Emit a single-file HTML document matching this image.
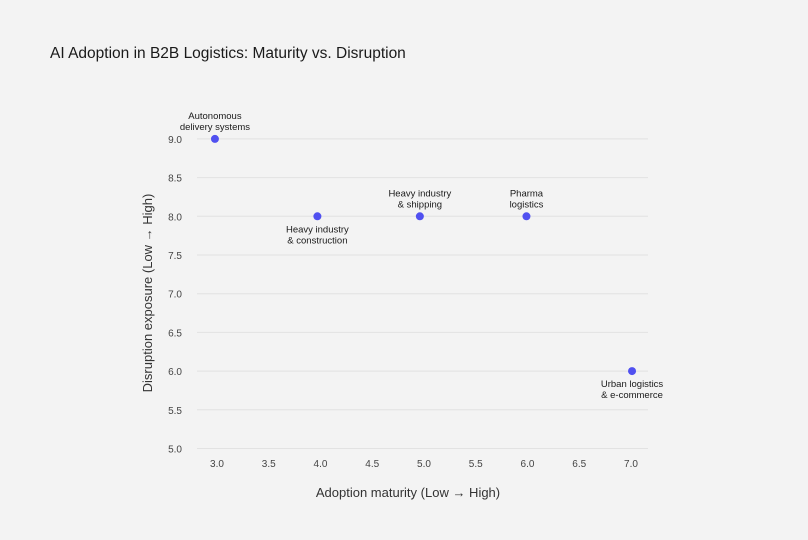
<!DOCTYPE html>
<html><head><meta charset="utf-8"><style>
body{margin:0;background:#f3f3f3;font-family:"Liberation Sans",sans-serif;}
svg{display:block}
</style></head><body>
<svg width="808" height="540" id="c">
<rect width="808" height="540" fill="#f3f3f3"/>
<text x="50" y="58" font-size="15.5" fill="#1a1a1a">AI Adoption in B2B Logistics: Maturity vs. Disruption</text>
<text x="408" y="497" font-size="13" fill="#333" text-anchor="middle">Adoption maturity (Low → High)</text>
<text transform="translate(152,293) rotate(-90)" font-size="13" fill="#333" text-anchor="middle">Disruption exposure (Low → High)</text>
<g id="grid"></g><g id="pts"></g>
</svg>
<script>
const xTicks=[3.0,3.5,4.0,4.5,5.0,5.5,6.0,6.5,7.0];
const yTicks=[5.0,5.5,6.0,6.5,7.0,7.5,8.0,8.5,9.0];
const labels=[["Autonomous","delivery systems"],["Heavy industry","& construction"],["Heavy industry","& shipping"],["Pharma","logistics"],["Urban logistics","& e-commerce"]];
const xVals=[2.98,3.97,4.96,5.99,7.01];
const yVals=[9.0,8.0,8.0,8.0,6.0];
const labelAbove=[true,false,true,true,false];
const X=v=>217+(v-3)*103.5, Y=v=>448.5-(v-5)*77.4;
const NS="http://www.w3.org/2000/svg";
function mk(t,a,p){const e=document.createElementNS(NS,t);for(const k in a)e.setAttribute(k,a[k]);p.appendChild(e);return e;}
const g=document.getElementById('grid'),P=document.getElementById('pts');
yTicks.forEach(v=>{
 const l=mk('line',{x1:197,x2:648,y1:Y(v),y2:Y(v),stroke:'#e2e2e2','stroke-width':1},g);
 
 
 const t=mk('text',{x:182,y:Y(v)+4,'font-size':10,fill:'#444','text-anchor':'end'},g);t.textContent=v.toFixed(1);
 
 
});
xTicks.forEach(v=>{
 const t=mk('text',{x:X(v),y:467,'font-size':10,fill:'#444','text-anchor':'middle'},g);t.textContent=v.toFixed(1);
 
 
});
xVals.forEach((xv,i)=>{
 const cx=X(xv),cy=Y(yVals[i]);
 const c=mk('circle',{cx:cx,cy:cy,r:4,fill:'#5050f0'},P);
 
 
 const by=labelAbove[i]?cy-20:cy+16;
 labels[i].forEach((s,j)=>{
  const t=mk('text',{x:cx,y:by+j*11,'font-size':9.5,fill:'#1a1a1a','text-anchor':'middle'},P);t.textContent=s;
  
  
 });
});
</script>
</body></html>
